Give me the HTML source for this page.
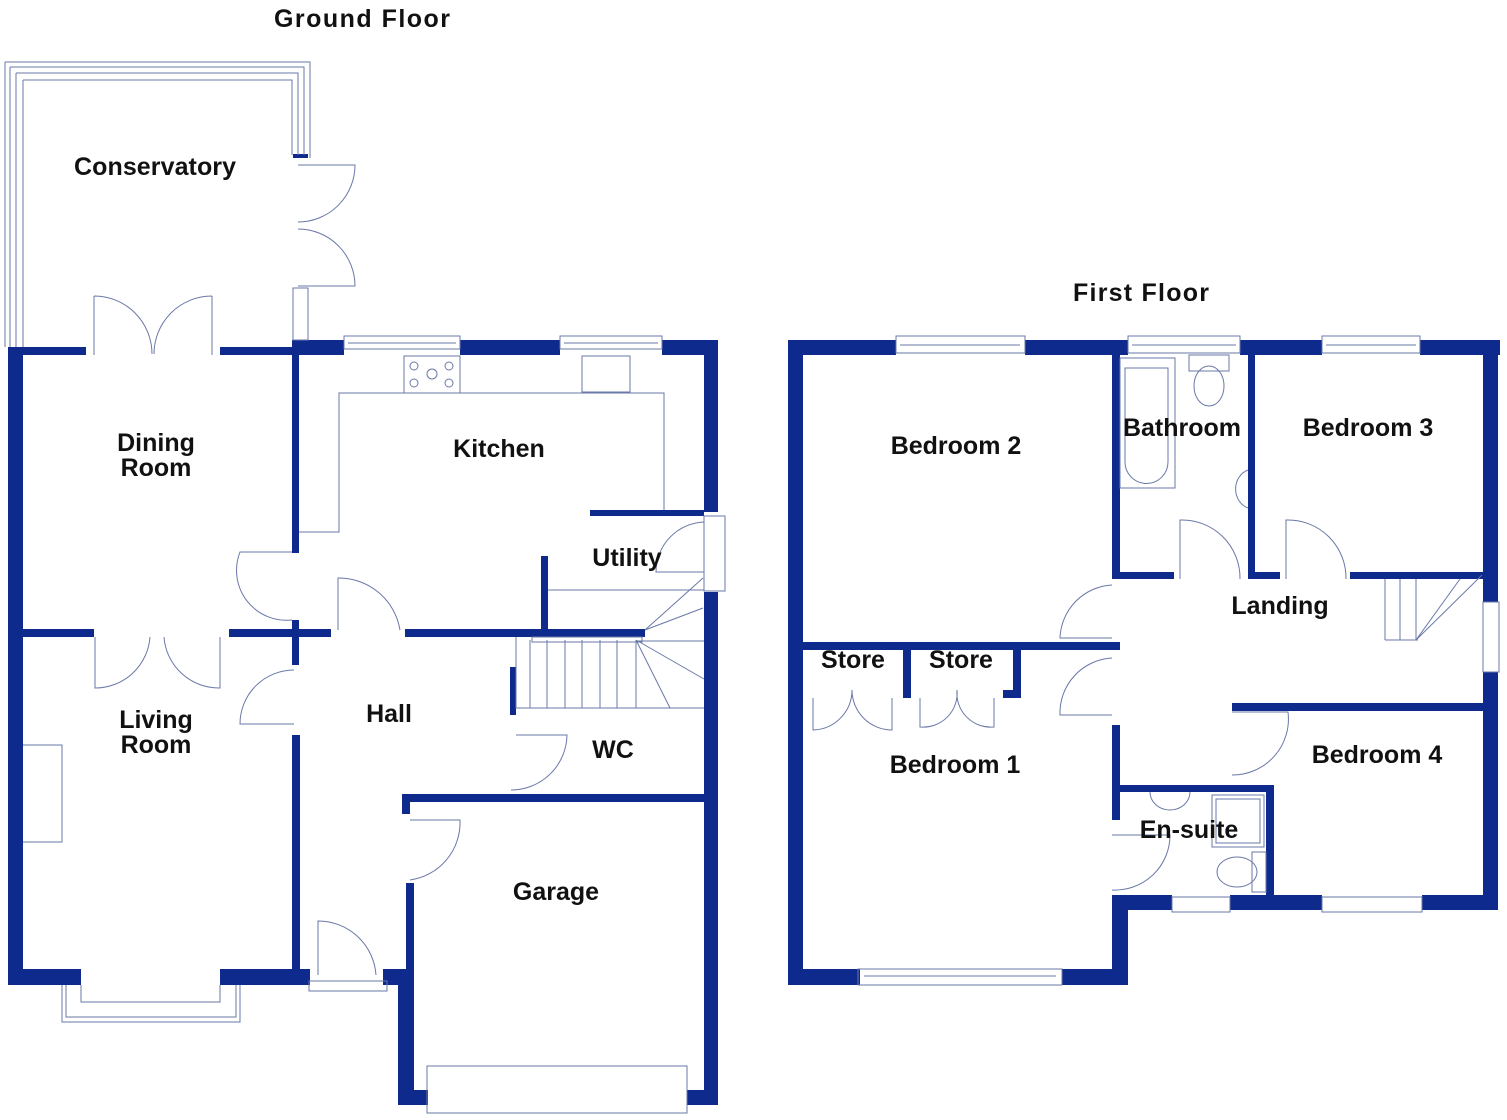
<!DOCTYPE html>
<html><head><meta charset="utf-8"><style>
html,body{margin:0;padding:0;background:#fff;}
svg{display:block;}
text{font-family:"Liberation Sans",sans-serif;font-weight:bold;font-size:25px;fill:#111;}
</style></head><body>
<svg width="1507" height="1120" viewBox="0 0 1507 1120" xmlns="http://www.w3.org/2000/svg">
<g fill="#0d2a8c">
<rect x="8" y="347" width="15" height="638"/>
<rect x="8" y="347" width="78" height="8"/>
<rect x="220" y="347" width="72" height="8"/>
<rect x="292" y="340" width="52" height="15"/>
<rect x="460" y="340" width="100" height="15"/>
<rect x="662" y="340" width="56" height="15"/>
<rect x="704" y="340" width="14" height="172"/>
<rect x="704" y="592" width="14" height="513"/>
<rect x="292" y="355" width="7" height="198"/>
<rect x="292" y="620" width="7" height="45"/>
<rect x="292" y="735" width="8" height="235"/>
<rect x="22" y="629" width="72" height="8"/>
<rect x="229" y="629" width="102" height="8"/>
<rect x="405" y="629" width="240" height="8"/>
<rect x="590" y="510" width="114" height="6"/>
<rect x="541" y="556" width="7" height="75"/>
<rect x="510" y="667" width="6" height="48"/>
<rect x="402" y="794" width="302" height="8"/>
<rect x="402" y="794" width="8" height="20"/>
<rect x="406" y="883" width="8" height="90"/>
<rect x="8" y="969" width="73" height="16"/>
<rect x="220" y="969" width="90" height="16"/>
<rect x="383" y="969" width="31" height="16"/>
<rect x="398" y="969" width="16" height="136"/>
<rect x="398" y="1090" width="30" height="15"/>
<rect x="687" y="1090" width="31" height="15"/>
<rect x="293" y="154" width="15" height="4"/>
<rect x="788" y="340" width="15" height="645"/>
<rect x="788" y="340" width="108" height="15"/>
<rect x="1025" y="340" width="103" height="15"/>
<rect x="1240" y="340" width="82" height="15"/>
<rect x="1420" y="340" width="80" height="15"/>
<rect x="1483" y="340" width="15" height="262"/>
<rect x="1483" y="672" width="15" height="238"/>
<rect x="1112" y="355" width="8" height="224"/>
<rect x="1120" y="572" width="54" height="7"/>
<rect x="1248" y="355" width="7" height="224"/>
<rect x="1255" y="572" width="25" height="7"/>
<rect x="1350" y="572" width="133" height="7"/>
<rect x="803" y="642" width="317" height="8"/>
<rect x="903" y="650" width="8" height="48"/>
<rect x="1013" y="650" width="8" height="48"/>
<rect x="1003" y="690" width="18" height="8"/>
<rect x="1112" y="725" width="8" height="95"/>
<rect x="1120" y="785" width="153" height="7"/>
<rect x="1266" y="785" width="8" height="110"/>
<rect x="1232" y="703" width="251" height="8"/>
<rect x="1112" y="895" width="60" height="15"/>
<rect x="1230" y="895" width="92" height="15"/>
<rect x="1422" y="895" width="76" height="15"/>
<rect x="1112" y="895" width="16" height="90"/>
<rect x="788" y="969" width="72" height="16"/>
<rect x="1062" y="969" width="66" height="16"/>
</g>
<g fill="none" stroke="#6a78a8" stroke-width="1">
<path d="M5 62 H310 V158 M10 67 H304 V155 M16 73 H298 V155 M23 80 H292 V155"/>
<path d="M5 62 V347 M10 67 V347 M16 73 V347 M23 80 V347"/>
<rect x="293" y="288" width="15" height="52"/>
<path d="M298 165 H355 A57 57 0 0 1 298 222"/>
<path d="M298 286 H355 A57 57 0 0 0 298 229"/>
<path d="M94 296 V355 M94 296 A58 58 0 0 1 152 354 M212 296 V355 M212 296 A58 58 0 0 0 154 354"/>
<rect x="344" y="336" width="116" height="13"/><line x1="348" y1="343" x2="456" y2="343"/>
<rect x="560" y="336" width="102" height="13"/><line x1="564" y1="343" x2="658" y2="343"/>
<path d="M299 532 H339 V393 H664 V510"/>
<rect x="404" y="356" width="56" height="37"/>
<circle cx="414" cy="366" r="4"/><circle cx="449" cy="366" r="4"/><circle cx="414" cy="383" r="4"/><circle cx="449" cy="383" r="4"/><circle cx="432" cy="374" r="5"/>
<rect x="582" y="356" width="48" height="36"/>
<rect x="704" y="516" width="21" height="75"/>
<path d="M704 522 A50 50 0 0 0 656 572 H704"/>
<path d="M548 590 H704 M645 630 L703 578 M645 630 L703 608"/>
<path d="M516 637 V708 H704 M530 640 V708 M547 640 V708 M565 640 V708 M582 640 V708 M600 640 V708 M617 640 V708 M636 640 V708 M636 640 L704 679 M636 640 L670 708 M636 641 H704"/>
<rect x="532" y="637" width="110" height="5"/>
<path d="M292 552 H240 A50 50 0 0 0 292 620"/>
<path d="M338 630 V578 A62 62 0 0 1 400 630"/>
<path d="M294 670 A54 54 0 0 0 240 724 H294"/>
<path d="M511 790 A56 56 0 0 0 567 735 H516"/>
<path d="M410 820 H460 A58 58 0 0 1 410 880"/>
<path d="M318 975 V921 A58 58 0 0 1 376 975"/>
<rect x="309" y="981" width="78" height="10"/>
<path d="M95 637 V688 A55 55 0 0 0 150 637 M220 637 V688 A55 55 0 0 1 164 637"/>
<path d="M23 745 H62 V842 H23"/>
<path d="M81 985 V1002 H220 V985 M66 985 V1017 H236 V985 M62 985 V1022 H240 V985"/>
<rect x="427" y="1066" width="260" height="47"/>
<rect x="896" y="336" width="129" height="17"/><line x1="900" y1="345" x2="1020" y2="345"/>
<rect x="1128" y="336" width="112" height="17"/><line x1="1132" y1="345" x2="1236" y2="345"/>
<rect x="1322" y="336" width="98" height="17"/><line x1="1326" y1="345" x2="1416" y2="345"/>
<rect x="1483" y="602" width="16" height="70"/>
<rect x="1172" y="897" width="58" height="15"/>
<rect x="1322" y="897" width="100" height="15"/>
<rect x="858" y="969" width="204" height="16"/><line x1="864" y1="976" x2="1056" y2="976"/>
<rect x="1120" y="358" width="55" height="130"/>
<path d="M1125 368 H1168 V462 A21 21 0 0 1 1125 462 Z"/>
<rect x="1189" y="355" width="40" height="16"/>
<ellipse cx="1209" cy="386" rx="15" ry="20"/>
<path d="M1248 470 A18 20 0 0 0 1248 508"/>
<path d="M1180 579 V520 A58 58 0 0 1 1240 579"/>
<path d="M1286 579 V520 A58 58 0 0 1 1346 579"/>
<path d="M1385 579 V640 M1400 579 V640 M1416 579 V640 M1416 640 L1482 575 M1416 640 L1460 579 M1385 640 H1418"/>
<path d="M1112 585 A55 55 0 0 0 1060 638 H1112"/>
<path d="M1112 658 A55 55 0 0 0 1060 715 H1112"/>
<path d="M1232 712 H1288 A56 56 0 0 1 1232 775"/>
<path d="M1112 835 H1170 A55 55 0 0 1 1112 890"/>
<path d="M813 698 V730 A40 40 0 0 0 852 690 A40 40 0 0 0 892 730 V698"/>
<path d="M920 698 V727 A34 34 0 0 0 957 690 A34 34 0 0 0 994 727 V698"/>
<path d="M1150 792 A20 18 0 0 0 1190 792"/>
<rect x="1212" y="795" width="52" height="52"/><rect x="1216" y="799" width="44" height="44"/>
<rect x="1252" y="852" width="14" height="40"/>
<ellipse cx="1237" cy="872" rx="20" ry="15"/>
</g>
<text x="362" y="27" text-anchor="middle" font-size="28" textLength="176">Ground Floor</text>
<text x="1141" y="301" text-anchor="middle" font-size="28" textLength="136">First Floor</text>
<text x="155" y="175" text-anchor="middle" textLength="162">Conservatory</text>
<text x="156" y="451" text-anchor="middle">Dining</text>
<text x="156" y="476" text-anchor="middle">Room</text>
<text x="499" y="457" text-anchor="middle">Kitchen</text>
<text x="627" y="566" text-anchor="middle">Utility</text>
<text x="156" y="728" text-anchor="middle">Living</text>
<text x="156" y="753" text-anchor="middle">Room</text>
<text x="389" y="722" text-anchor="middle">Hall</text>
<text x="613" y="758" text-anchor="middle">WC</text>
<text x="556" y="900" text-anchor="middle">Garage</text>
<text x="956" y="454" text-anchor="middle">Bedroom 2</text>
<text x="1182" y="436" text-anchor="middle">Bathroom</text>
<text x="1368" y="436" text-anchor="middle">Bedroom 3</text>
<text x="1280" y="614" text-anchor="middle">Landing</text>
<text x="853" y="668" text-anchor="middle">Store</text>
<text x="961" y="668" text-anchor="middle">Store</text>
<text x="955" y="773" text-anchor="middle">Bedroom 1</text>
<text x="1377" y="763" text-anchor="middle">Bedroom 4</text>
<text x="1189" y="838" text-anchor="middle">En-suite</text>
</svg>
</body></html>
